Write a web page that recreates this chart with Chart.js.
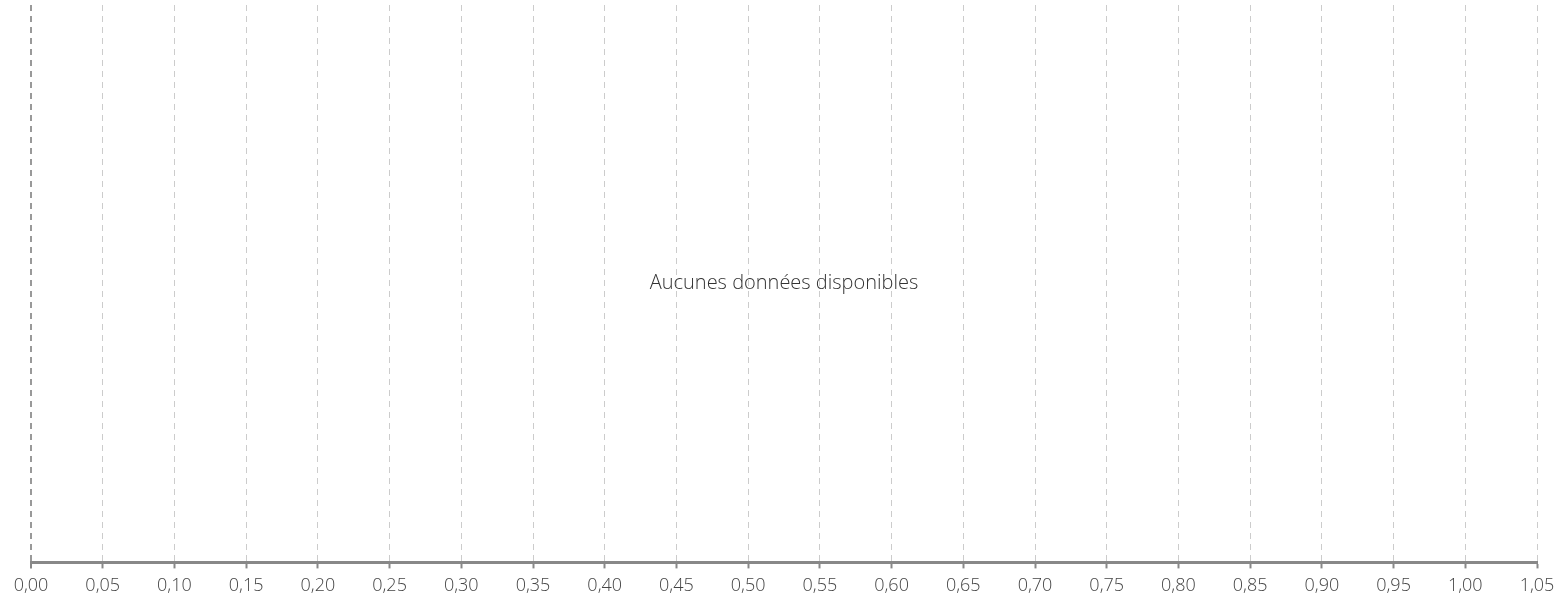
<!DOCTYPE html>
<html>
<head>
<meta charset="utf-8">
<script src="https://cdn.jsdelivr.net/npm/chart.js@4"></script>
<style>
  html, body { margin: 0; padding: 0; background: #fff; }
  #wrap { width: 1562px; height: 605px; }
</style>
</head>
<body>
<div id="wrap"><canvas id="chart"></canvas></div>
<script>
// No data in this chart: empty series, only the x axis from 0 to 1.05
const categories = [];
const values = [];
const xMin = 0;
const xMax = 1.05;
const xStep = 0.05;
const emptyText = 'Aucunes données disponibles';

const fmt = (v) => v.toFixed(2).replace('.', ',');

// draws the "no data" message in the middle of the plot
const noDataPlugin = {
    id: 'noData',
    afterDraw(chart) {
        if (values.length > 0) return;
        const { ctx, chartArea } = chart;
        ctx.save();
        ctx.font = '300 20px "Open Sans", Lato, sans-serif';
        ctx.fillStyle = '#333';
        ctx.textAlign = 'center';
        ctx.textBaseline = 'middle';
        ctx.fillText(emptyText, (chartArea.left + chartArea.right) / 2, (chartArea.top + chartArea.bottom) / 2);
        ctx.restore();
    }
};

new Chart(document.getElementById('chart'), {
    type: 'scatter',
    data: {
        datasets: [{
            label: 'data',
            data: categories.map((c, i) => ({ x: values[i], y: i }))
        }]
    },
    options: {
        responsive: true,
        maintainAspectRatio: false,
        animation: false,
        layout: { padding: { left: 31, right: 25, top: 5, bottom: 1 } },
        plugins: {
            legend: { display: false },
            tooltip: { enabled: false }
        },
        scales: {
            x: {
                type: 'linear',
                min: xMin,
                max: xMax,
                ticks: {
                    stepSize: xStep,
                    color: '#444',
                    font: { family: '"Open Sans", Lato, sans-serif', size: 18, weight: 300 },
                    padding: 7,
                    maxRotation: 0,
                    autoSkip: false,
                    callback: (v) => fmt(v)
                },
                grid: {
                    color: (c) => c.index === 0 ? '#999' : '#ccc',
                    lineWidth: (c) => c.index === 0 ? 2 : 1,
                    tickColor: '#888',
                    tickLength: 6,
                    tickWidth: 2,
                    tickBorderDash: []
                },
                border: { color: '#888', width: 3, dash: [6, 5] }
            },
            y: {
                display: false,
                min: 0,
                max: 1
            }
        }
    },
    plugins: [noDataPlugin]
});
</script>
</body>
</html>
